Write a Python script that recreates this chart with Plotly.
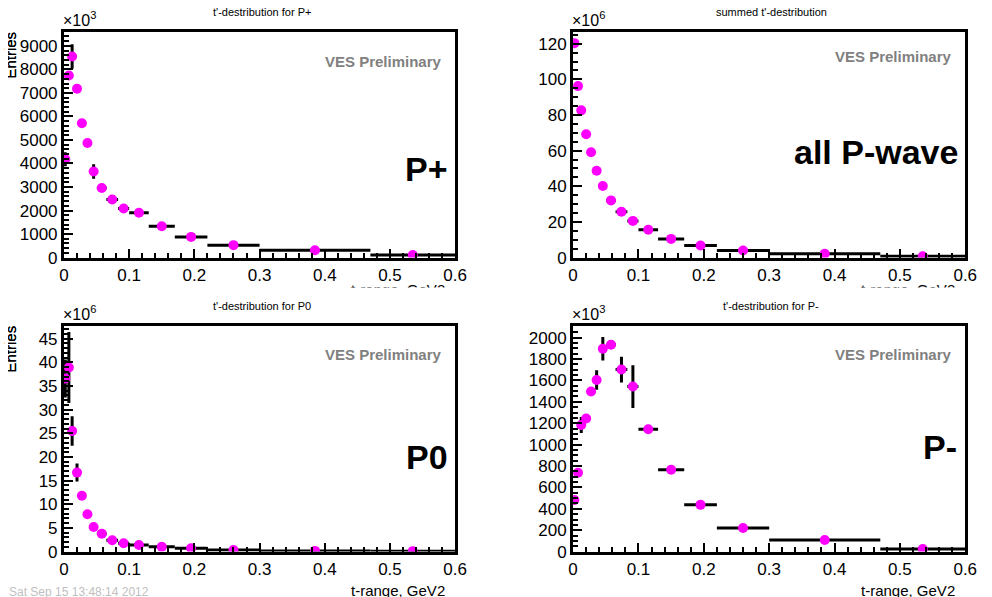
import plotly.graph_objects as go

# t' bins (GeV^2): point positions and half widths
t_center = [0.002, 0.0075, 0.0125, 0.02, 0.0275, 0.036, 0.0455, 0.058, 0.074, 0.0915,
            0.115, 0.15, 0.195, 0.26, 0.385, 0.535]
t_half = [0.002, 0.0025, 0.0025, 0.004, 0.0035, 0.005, 0.005, 0.0075, 0.009, 0.0085,
          0.015, 0.02, 0.025, 0.04, 0.085, 0.065]

# P+ (x10^3)
pplus = [4180, 7740, 8550, 7180, 5710, 4870, 3660, 2960, 2470, 2090, 1910, 1330, 880, 530, 310, 110]
pplus_err = [300, 150, 520, 100, 80, 70, 310, 80, 170, 170, 60, 50, 40, 30, 20, 10]

# summed (x10^6)
summed = [120.3, 96.2, 82.6, 69.2, 59.1, 48.7, 40.2, 32.1, 25.7, 20.6, 15.6, 10.5, 6.8, 4.0, 2.2, 0.7]
summed_err = [1.0, 1.0, 0.8, 0.7, 0.6, 0.5, 0.5, 0.5, 0.5, 0.4, 0.3, 0.3, 0.2, 0.2, 0.1, 0.1]

# P0 (x10^6)
pzero = [36.6, 38.9, 25.5, 16.7, 11.8, 7.9, 5.2, 3.8, 2.4, 1.75, 1.4, 1.0, 0.7, 0.35, 0.15, 0.1]
pzero_err = [4.0, 7.5, 3.1, 1.9, 0.6, 0.3, 0.3, 0.2, 0.2, 0.1, 0.1, 0.1, 0.1, 0.05, 0.03, 0.02]

# P- (x10^3)
pminus = [483, 737, 1183, 1244, 1497, 1604, 1896, 1933, 1702, 1543, 1143, 765, 437, 221, 108, 25]
pminus_err = [20, 30, 75, 30, 20, 92, 110, 20, 120, 200, 15, 12, 10, 8, 5, 3]

x_ticks = [0, 0.1, 0.2, 0.3, 0.4, 0.5, 0.6]
x_ticktext = ["0", "0.1", "0.2", "0.3", "0.4", "0.5", "0.6"]

panels = [
    dict(title="t'-destribution for P+", y=pplus, err=pplus_err, ymax=9570, dtick=1000,
         minor=200, exp="3", label="P+"),
    dict(title="summed t'-destribution", y=summed, err=summed_err, ymax=126.3, dtick=20,
         minor=5, exp="6", label="all P-wave"),
    dict(title="t'-destribution for P0", y=pzero, err=pzero_err, ymax=47.6, dtick=5,
         minor=1, exp="6", label="P0"),
    dict(title="t'-destribution for P-", y=pminus, err=pminus_err, ymax=2105, dtick=200,
         minor=50, exp="3", label="P-"),
]

W, H = 992, 597
# frame pixel boxes: left, right, top, bottom
boxes = [(60, 458, 33, 262), (578, 977, 33, 262), (60, 458, 332, 561), (578, 977, 332, 561)]
label_pos = [(429, 172), (886, 155), (429, 465), (951, 455)]
prelim_y = [63, 57, 361, 361]
xtitle_drop = [22, 22, 29, 29]

def px(x):
    return x / W

def py(y):
    return 1 - y / H

fig = go.Figure()
annotations = []
font = "Liberation Sans, Arial, Helvetica, sans-serif"

for i, p in enumerate(panels):
    l, r, t, b = boxes[i]
    xa = "x" if i == 0 else f"x{i+1}"
    ya = "y" if i == 0 else f"y{i+1}"
    fig.add_trace(go.Scatter(
        x=t_center, y=p["y"], xaxis=xa, yaxis=ya, mode="markers",
        marker=dict(color="#ff00ff", size=10, line=dict(width=0)),
        error_y=dict(type="data", array=p["err"], color="black", thickness=3, width=0),
        error_x=dict(type="data", array=t_half, color="black", thickness=3, width=0),
        showlegend=False, cliponaxis=True,
    ))
    ticks_y = []
    v = 0
    while v <= p["ymax"] + 1e-9:
        ticks_y.append(v)
        v += p["dtick"]
    axis_common = dict(showgrid=False, zeroline=False, showline=True, linewidth=3,
                       linecolor="black", mirror=True, ticks="inside", tickcolor="black",
                       tickwidth=1.5, ticklen=9,
                       tickfont=dict(family=font, size=17, color="black"))
    fig.layout[("xaxis" if i == 0 else f"xaxis{i+1}")] = dict(
        domain=[px(l), px(r)], range=[0, 0.6], anchor=ya,
        tickvals=x_ticks, ticktext=x_ticktext,
        minor=dict(dtick=0.02, tick0=0, ticks="inside", ticklen=5, tickcolor="black", tickwidth=1.5),
        **axis_common)
    fig.layout[("yaxis" if i == 0 else f"yaxis{i+1}")] = dict(
        domain=[py(b), py(t)], range=[0, p["ymax"]], anchor=xa,
        tickvals=ticks_y, ticktext=[f"{int(v) if float(v).is_integer() else v}" for v in ticks_y],
        minor=dict(dtick=p["minor"], tick0=0, ticks="inside", ticklen=5, tickcolor="black", tickwidth=1.5),
        **axis_common)

    cx = (l + r) / 2 + 2
    annotations.append(dict(text=p["title"], x=px(cx), y=py(t - 21), xref="paper", yref="paper",
                            showarrow=False, font=dict(family=font, size=11, color="black"),
                            xanchor="center", yanchor="middle"))
    annotations.append(dict(text="\u00d710<sup>" + p["exp"] + "</sup>", x=px(l - 3), y=py(t - 1),
                            xref="paper", yref="paper", showarrow=False,
                            font=dict(family=font, size=16, color="black"),
                            xanchor="left", yanchor="bottom"))
    annotations.append(dict(text="VES Preliminary", x=px(r - 11), y=py(prelim_y[i]),
                            xref="paper", yref="paper", showarrow=False,
                            font=dict(family=font, size=15, color="#808080", weight="bold"),
                            xanchor="right", yanchor="middle"))
    lx, ly = label_pos[i]
    annotations.append(dict(text=p["label"], x=px(lx), y=py(ly), xref="paper", yref="paper",
                            showarrow=False, font=dict(family=font, size=34, color="black", weight="bold"),
                            xanchor="center", yanchor="middle"))
    annotations.append(dict(text="Entries", x=px(0), y=py(t + 23), xref="paper", yref="paper",
                            showarrow=False, textangle=-90,
                            font=dict(family=font, size=15, color="black"),
                            xanchor="left", yanchor="middle", xshift=-5))
    annotations.append(dict(text="t-range, GeV2", x=px(r - 8), y=py(b + xtitle_drop[i]),
                            xref="paper", yref="paper", showarrow=False,
                            font=dict(family=font, size=15, color="black"),
                            xanchor="right", yanchor="top"))

# left edge of the pads: the y titles are cut off there
for (l, r, t, b) in boxes:
    annotations.append(dict(text="", x=0, y=py(t - 10), xref="paper", yref="paper",
                            showarrow=False, xanchor="left", yanchor="top",
                            width=3, height=70, bgcolor="white", borderpad=0, borderwidth=0))
# lower edge of the upper pads: hide the overflowing part of the x titles
for (l, r, t, b) in boxes[:2]:
    annotations.append(dict(text="", x=px(r - 110), y=py(292), xref="paper", yref="paper",
                            showarrow=False, xanchor="left", yanchor="top",
                            width=120, height=10, bgcolor="white", borderpad=0))

annotations.append(dict(text="Sat Sep 15 13:48:14 2012", x=px(2), y=py(593), xref="paper",
                        yref="paper", showarrow=False,
                        font=dict(family=font, size=12, color="#c0c0c0"),
                        xanchor="left", yanchor="top"))

fig.update_layout(width=W, height=H, margin=dict(l=0, r=0, t=0, b=0),
                  paper_bgcolor="white", plot_bgcolor="white",
                  annotations=annotations, showlegend=False)

fig.write_html("out.html")
